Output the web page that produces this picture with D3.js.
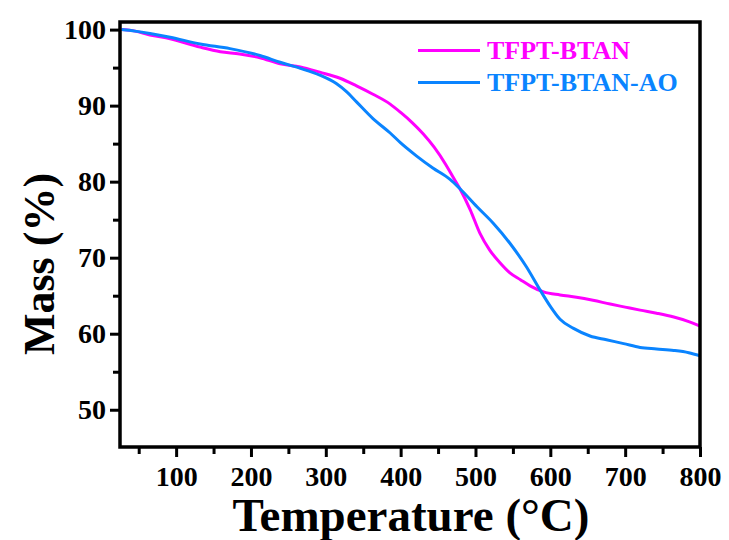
<!DOCTYPE html>
<html>
<head>
<meta charset="utf-8">
<script src="https://cdn.jsdelivr.net/npm/d3@7"></script>
<style>
  html, body { margin: 0; padding: 0; background: #fff; }
  svg text { font-family: "Liberation Serif", "Times New Roman", serif; font-weight: bold; }
</style>
</head>
<body>
<svg id="chart" width="729" height="540"></svg>
<script>
// ---- Data ----
const seriesNames = ["TFPT-BTAN", "TFPT-BTAN-AO"];
const seriesColors = ["#FF00FF", "#0A84FF"];

const btanTemp = [27, 45, 65, 92, 132, 159, 185, 212, 239, 266, 292, 319, 341, 363, 386, 400, 415, 430, 445, 460, 470, 479, 493, 506, 519, 533, 546, 560, 573, 591, 613, 635, 657, 680, 700, 720, 742, 765, 785, 800];
const btanMass = [100.0, 99.8, 99.3, 98.8, 97.7, 97.1, 96.8, 96.3, 95.5, 95.1, 94.4, 93.6, 92.6, 91.5, 90.2, 89.1, 87.8, 86.3, 84.5, 82.3, 80.6, 79.1, 76.3, 73.2, 71.0, 69.3, 68.0, 67.1, 66.3, 65.5, 65.1, 64.8, 64.4, 63.9, 63.5, 63.1, 62.7, 62.2, 61.6, 61.0];

const aoTemp = [27, 45, 65, 92, 132, 172, 212, 239, 266, 292, 314, 328, 341, 363, 386, 400, 421, 443, 466, 479, 502, 524, 546, 568, 586, 600, 613, 631, 653, 675, 698, 720, 742, 765, 785, 800];
const aoMass = [100.0, 99.8, 99.5, 99.0, 98.1, 97.5, 96.6, 95.7, 94.9, 94.0, 92.9, 91.8, 90.5, 88.3, 86.4, 85.1, 83.4, 81.8, 80.3, 79.1, 76.7, 74.5, 71.9, 68.8, 65.8, 63.6, 61.9, 60.7, 59.7, 59.2, 58.7, 58.2, 58.0, 57.8, 57.5, 57.1];

const xMajorTicks = [100, 200, 300, 400, 500, 600, 700, 800];
const xMinorTicks = [50, 150, 250, 350, 450, 550, 650, 750];
const yMajorTicks = [50, 60, 70, 80, 90, 100];
const yMinorTicks = [55, 65, 75, 85, 95];

const xTitle = "Temperature (°C)";
const yTitle = "Mass (%)";

// ---- Layout ----
const L = 120, R = 700, T = 22, B = 447;
const svg = d3.select("#chart");

const x = d3.scaleLinear().domain([25, 800]).range([L, R]);
const y = d3.scaleLinear().domain([45.1, 101]).range([B, T]);

// ---- Lines ----
const series = [
  { name: seriesNames[0], color: seriesColors[0], pts: btanTemp.map((t, i) => [t, btanMass[i]]) },
  { name: seriesNames[1], color: seriesColors[1], pts: aoTemp.map((t, i) => [t, aoMass[i]]) }
];
const line = d3.line().x(d => x(d[0])).y(d => y(d[1])).curve(d3.curveMonotoneX);

svg.append("g").selectAll("path").data(series).join("path")
  .attr("d", d => line(d.pts))
  .attr("fill", "none")
  .attr("stroke", d => d.color)
  .attr("stroke-width", 3)
  .attr("stroke-linejoin", "round");

// ---- Axes ----
const fontTick = 28;
const axisStyle = g => {
  g.select(".domain").remove();
  g.selectAll(".tick line").attr("stroke", "#000").attr("stroke-width", 3);
  g.selectAll(".tick text").attr("fill", "#000").style("font-size", fontTick + "px");
};

// minor ticks
svg.append("g").attr("transform", `translate(0,${B})`)
  .call(d3.axisBottom(x).tickValues(xMinorTicks).tickSize(7).tickFormat(""))
  .call(axisStyle);
svg.append("g").attr("transform", `translate(${L},0)`)
  .call(d3.axisLeft(y).tickValues(yMinorTicks).tickSize(7).tickFormat(""))
  .call(axisStyle);

// major ticks
svg.append("g").attr("transform", `translate(0,${B})`)
  .call(d3.axisBottom(x).tickValues(xMajorTicks).tickSize(10).tickPadding(9).tickFormat(d3.format("d")))
  .call(axisStyle);
svg.append("g").attr("transform", `translate(${L},0)`)
  .call(d3.axisLeft(y).tickValues(yMajorTicks).tickSize(10).tickPadding(4).tickFormat(d3.format("d")))
  .call(axisStyle);

// frame
svg.append("rect")
  .attr("x", L).attr("y", T).attr("width", R - L).attr("height", B - T)
  .attr("fill", "none").attr("stroke", "#000").attr("stroke-width", 3.5);

// ---- Titles ----
svg.append("text")
  .attr("x", 411).attr("y", 531)
  .attr("text-anchor", "middle")
  .style("font-size", "47px")
  .text(xTitle);

svg.append("text")
  .attr("transform", `translate(54,264) rotate(-90)`)
  .attr("text-anchor", "middle")
  .style("font-size", "44px")
  .text(yTitle);

// ---- Legend ----
const legend = svg.append("g");
const legY = [50.5, 82.5];
series.forEach((s, i) => {
  legend.append("line")
    .attr("x1", 418).attr("x2", 480)
    .attr("y1", legY[i]).attr("y2", legY[i])
    .attr("stroke", s.color).attr("stroke-width", 3);
  legend.append("text")
    .attr("x", 487).attr("y", legY[i] + 8)
    .attr("fill", s.color)
    .style("font-size", "26px")
    .text(s.name);
});
</script>
</body>
</html>
